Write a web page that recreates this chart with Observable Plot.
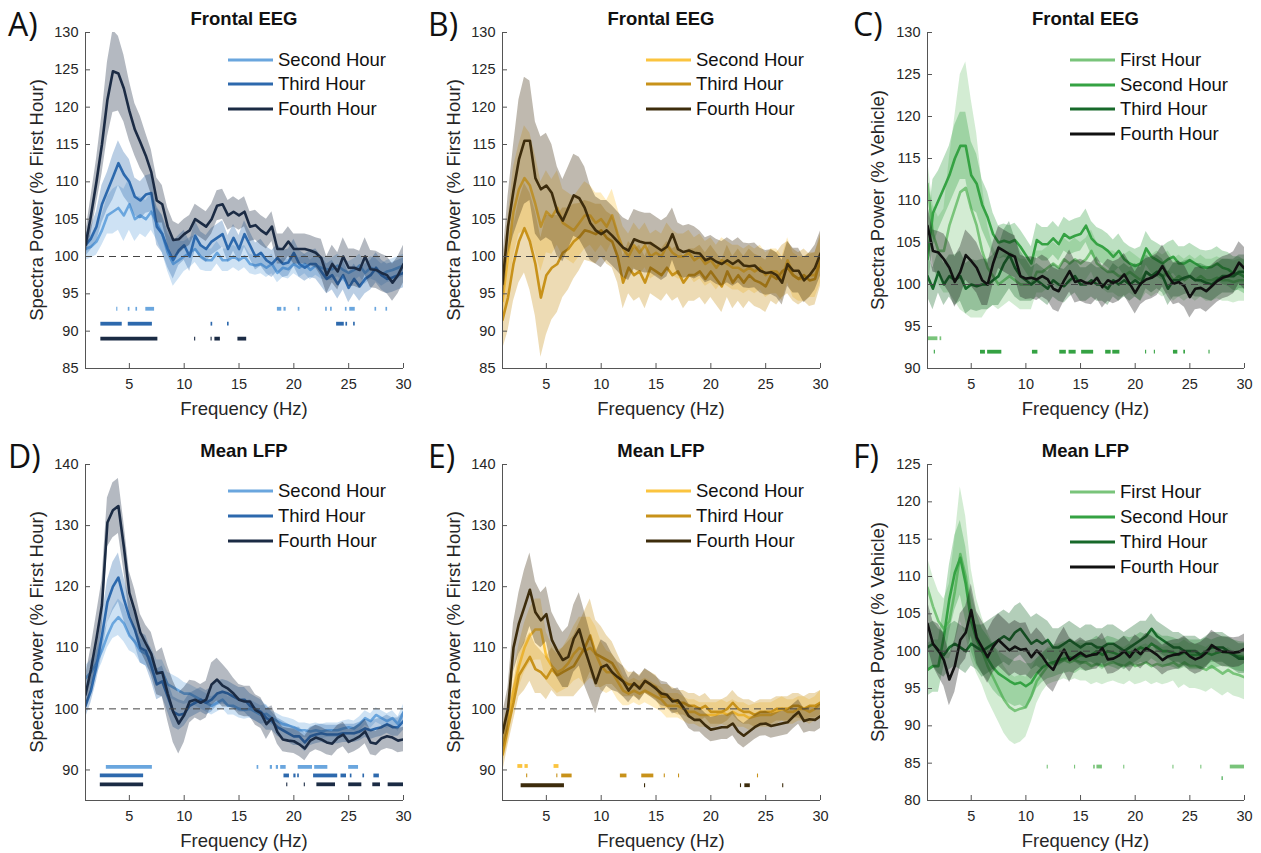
<!DOCTYPE html>
<html><head><meta charset="utf-8">
<script src="https://cdn.jsdelivr.net/npm/d3@7"></script>
<script src="https://cdn.jsdelivr.net/npm/@observablehq/plot@0.6"></script>
<style>
body{margin:0;background:#fff;font-family:"Liberation Sans",Arial,sans-serif;}
#root{position:relative;width:1261px;height:853px;overflow:hidden;background:#fff}
.panel{position:absolute}
.t{position:absolute;white-space:nowrap;color:#111;line-height:1}
.letter{font-family:"Open Sans",sans-serif;font-size:32px;color:#111}
.title{font-weight:bold;font-size:18.5px;transform:translate(-50%,-50%)}
.xl{font-size:18.5px;color:#262626;transform:translate(-50%,-50%)}
.yl{font-size:18.5px;color:#262626;transform:translate(-50%,-50%) rotate(-90deg)}
.lg{font-size:18.5px;color:#111;transform:translateY(-50%)}
.sw{position:absolute;height:3px;transform:translateY(-50%)}
</style></head><body><div id="root"></div><script>
// ---------- data ----------
const freq = [1,1.5,2,2.5,3,3.5,4,4.5,5,5.5,6,6.5,7,7.5,8,8.5,9,9.5,10,10.5,11,11.5,12,12.5,13,13.5,14,14.5,15,15.5,16,16.5,17,17.5,18,18.5,19,19.5,20,20.5,21,21.5,22,22.5,23,23.5,24,24.5,25,25.5,26,26.5,27,27.5,28,28.5,29,29.5,30];
const xTicks = [5,10,15,20,25,30];
const yTicksA = [85,90,95,100,105,110,115,120,125,130];
const yTicksC = [90,95,100,105,110,115,120,125,130];
const yTicksD = [90,100,110,120,130,140];
const yTicksF = [80,85,90,95,100,105,110,115,120,125];
const hoursBG = ["Second Hour","Third Hour","Fourth Hour"];
const hoursC = ["First Hour","Second Hour","Third Hour","Fourth Hour"];
const blues = ["#6aa6de","#2d69ad","#1b2b44"];
const golds = ["#fbc43f","#c8921a","#3d2c0c"];
const greens = ["#79c47a","#35a243","#17692a","#111111"];

// Panel A (Frontal EEG, % First Hour)
const A_second = [101,101.3,102,103.5,105.5,106,106.5,105.5,107,105, 105.5,105,106,104.5,103,100.5,99,99.5,100,100.5, 101,100,99.5,99.5,100.5,99.5,99.5,100,99.5,100, 99,98.8,99,98.5,99,97.8,98.5,98.3,99,98.5, 99,98.2,98.8,98.5,98.3,98.3,98.8,98.2,97.8,98.2, 98.8,97.8,98.5,98.2,97.5,98,98.2,98.5,98.8];
const A_third = [101.5,102.4,104,107,108.8,110.6,112.5,111,110,108, 107.5,108.3,108.5,104,103,101,99.5,100.8,101.5,100, 102.8,101.5,101,102,102.5,103,101,102.5,101,103, 101.5,100,100.5,99.5,99,99.8,99,99.2,100.5,99, 98.5,99,99,98,97,97.5,96.3,97.5,95.8,97, 96,97,97.5,98.5,97.5,97,97.2,97.5,97.8];
const A_fourth = [101.5,105.5,110,115,121,124.8,124.5,122.5,119.5,117, 115.3,113.5,111.3,107.5,107,104,102.2,102.3,103,103.5, 105,104.5,104,105,106.8,107,105.5,106,105.5,106, 104,104.2,103.5,103,104,101,101,102,101,101, 101,100.8,100.5,99.8,97.5,99,98,100,98.5,98.5, 98.2,100,98.3,98.2,97.8,97.5,96.5,97.5,99];
const A_second_err = [1.5,1.5,1.8,2,2.5,3,3,3.5,3.5,3, 2.5,2.5,2.5,2.3,2.5,2.5,3,2.5,2,2, 1.8,1.8,1.5,1.5,1.5,1.5,1.5,1.5,1.5,1.5, 1.3,1.3,1.3,1.3,1.3,1.3,1.3,1.3,1.3,1.3, 1.3,1.3,1.3,1.5,1.5,1.5,1.5,1.5,1.5,1.5, 1.5,1.5,1.5,1.5,1.5,1.5,1.5,1.5,1.5];
const A_third_err = [1.5,1.5,2,2.5,2.5,3,3,3,3,2.5, 2.5,2.5,2.5,2.5,2.5,2.5,2.5,2,2,2, 2,1.8,1.8,1.8,1.8,1.8,1.8,1.8,1.8,1.8, 1.8,1.8,1.8,1.8,1.8,1.8,1.8,1.8,1.8,1.8, 1.8,1.8,2,2,2,2,2,2,2,2, 2,2,2,2,2,2,2,2,2];
const A_fourth_err = [1.5,2.5,3,4,5,5.5,5,4.5,4,3.5, 3.5,3,3,3,2.5,2.5,2.5,2,2,2, 2,2,2,2,2,2,2,2,2,2, 2,2,2,2,2,2,2,2,2,2, 2,2,2,2.5,2.5,2.5,2.5,2.5,2.5,2.5, 2.5,2.5,2.5,2.5,2.5,2.5,2.5,2.5,2.5];
const A_sig1 = [[3.85,3.95],[4.9,5.05],[5.6,5.75],[6.5,7.3],[18.5,18.9],[19.1,19.3],[20.4,20.55],[22.9,23.05],[23.35,23.5],[24.7,24.85],[25.1,25.6],[27.4,27.55],[28.4,28.55]];
const A_sig2 = [[2.4,4.35],[4.9,7.1],[12.45,12.6],[13.95,14.1],[23.9,24.6],[24.75,24.9],[25.45,25.6]];
const A_sig3 = [[2.4,7.6],[10.95,11.05],[12.45,12.55],[12.8,13.3],[14.9,15.7]];

// Panel B (Frontal EEG, % First Hour)
const B_second = [94,100,106,109,110.5,109.5,107,104,106,105.3, 106.5,104.5,104,103.5,104.5,105.5,105.5,104.5,105,104, 105.5,103,101,100,101.5,100.5,101.5,100,100.5,100, 101.5,100.5,100,100,100.5,99.5,100,99,99.5,98.5, 99.5,99,98.5,98.5,98,98.5,98,98.5,97.5,98, 98,97,99.5,97.5,97,97,97.5,97.5,99.5];
const B_third = [91.5,94.5,99,102,103.8,102,99,94.5,97.5,98.5, 99,100.5,101,102,102.6,103.5,103.3,103,103.5,102.5, 102,100,96.5,98.5,97.5,98,96.5,98.5,98,97.5, 98.5,97.5,98,96.5,97.5,97.5,98,97,98,97, 96,98,96.5,97.5,96.5,97.5,96.8,96.5,96,97.5, 97,98,98.5,97.5,97,97.5,96.8,97,99.5];
const B_fourth = [96.3,104,108.8,113,115.5,115.5,110.5,109,109.5,108.5, 106,104.8,106.5,108.2,107.8,106.5,104.5,103.5,103,103.5, 102.8,102,101.2,100.8,102.3,102,101.8,101.8,101.3,100.8, 101.3,103,101,100.6,100.8,100.5,100.4,99.5,99.8,99.3, 99,99.5,99,99.5,98.8,98.7,98.8,98.1,97.8,97.9, 97.5,96.5,99,98.1,98.1,96.8,97.5,98.5,100.4];
const B_second_err = [4,5,6,6,7,7,6.5,6,5.5,5, 5,4.5,4.5,4.5,4.5,4.5,4,4,3.5,3.5, 3.5,3.5,3,3,3,3,3,3,3,3, 3,3,3,3,3,3,3,3,3,3, 3,3,3,3,3,3,3,3,3,3, 3,3,3,3,3,3,3,3,3];
const B_third_err = [4,4.5,5,5.5,6,6.5,7,8,8,7, 6.5,6,5.5,5,4.5,4,4,4,3.5,3.5, 3.5,3.5,3.5,3.5,3.5,3.5,3.5,3.5,3.5,3.5, 3.5,3.5,3.5,3.5,3.5,3.5,3.5,3.5,3.5,3.5, 3.5,3.5,3.5,3.5,3.5,3.5,3.5,3.5,3.5,3.5, 3.5,3.5,3.5,3.5,3.5,3.5,3.5,3.5,3.5];
const B_fourth_err = [3,4,6,8,8.5,8,7.5,7,7,6.5, 6,5.5,5.5,5.5,5.5,5.5,5,4.5,4.5,4, 4,4,4,4,4,4,4,4,4,4, 4,3.5,3.5,3.5,3.5,3.5,3,3,3,3, 3,3,3,3,3,3,3,3,3,3, 3,3,3,3,3,3,3,3,3];

// Panel C (Frontal EEG, % Vehicle)
const C_first = [112,106,104,104,107,109,111,111.5,109,107, 104,102,101,100,100.5,101,100.5,100,100,100, 101.5,101.5,102,102.5,102,103,102.5,103,102.5,103, 104,102.5,102,101.5,101.5,101,101,101.5,101,100.5, 101.5,101,101.5,101,101.5,100.5,101,100.5,101,100.5, 101,100.5,100.5,100.8,100.5,100.5,100.3,100.5,100.5];
const C_second = [103,108.5,110,111.5,113,115,116.5,116.5,113,112, 109.5,108,106,105,105.2,105,105.3,104.5,103.5,102.5, 105.3,104.8,104.8,105.5,104.8,106,105.5,105.8,106,107, 105.5,104.8,104.5,104,103.3,104,103,102.5,102.2,102.5, 104.3,103.3,102.9,102.5,103,103.3,102.5,102.5,102.9,102.5, 102.1,102,102.1,102.5,102,101.8,101.3,101.3,100.9];
const C_third = [101,99.5,101.5,100,101,100.5,101,99.5,100,99.8, 100,100,100.5,101,102.5,103.5,102,101,100.5,100, 100.5,100,99.5,100.5,100,99.8,100.5,101,100,100, 100.5,100,100,99.5,100.5,100,100.5,100,100.5,100, 101.5,101,101.5,101,99.5,100.5,100.5,100.8,101,100.5, 100.5,100.2,100,100.5,101,101,101,101.5,101.5];
const C_fourth = [107,104,103.8,103,102,100.3,101.5,103.5,102.8,102, 100.5,100,102.5,104.4,104,103.6,103.3,101,100.7,100.8, 100.6,101,100.6,99.5,99.2,100.5,101.6,100.3,100.5,100.2, 100.1,100.8,99.7,100.5,100.2,100.5,101.2,100.1,99,100.1, 100.6,100.8,101.2,102.2,101,100.1,100.3,99.8,98.5,99.5, 99.6,99.2,99.8,100.4,100.8,101,101.4,102.6,101.9];
const C_first_err = [3,3.5,4,5,8,11,14,15,13,11, 8,5,3.5,3,3,3,3,3,3,3, 2.5,2.5,2.5,2.5,2.5,2.5,2.5,2.5,2.5,2.5, 2.5,2.5,2.5,2.5,2.5,2.5,2.5,2.5,2.5,2.5, 2.5,2.5,2.5,2.5,2.5,2.5,2.5,2.5,2.5,2.5, 2.5,2.5,2.5,2.5,2.5,2.5,2.5,2.5,2.5];
const C_second_err = [4,4,3.5,3.5,3.5,4,4,4,4,3.5, 3,3,2.5,2,2,2,2,2,2,2, 2,2,2,2,2,2,2,2,2,2, 2,2,2,2,2,2,2,2,2,2, 2,2,2,2,2,2,2,2,2,2, 2,2,2,2,2,2,2,2,2];
const C_third_err = [2.5,2.5,2.5,2.5,2.5,3,3,3,3,3, 3,3,3,3.5,4,4,3.5,3,2.5,2, 2,2,2,2,2,2,2,2,2,2, 2,2,2,2,2,2,2,2,2,2, 2,2,2,2,2,2,2,2,2,2, 2,2,2,2,2,2,2,2,2];
const C_fourth_err = [2.5,2.5,2.5,3,3,3,3,3,3,3, 3,2.5,2.5,2.5,2.5,2.5,2.5,2.5,2.5,2.5, 2.5,2.5,2.5,2.5,2.5,2.5,2.5,2.5,2.5,2.5, 2.5,2.5,2.5,2.5,2.5,2.5,2.5,2.5,2.5,2.5, 2.5,2.5,2.5,2.5,2.5,2.5,2.5,2.5,2.5,2.5, 2.5,2.5,2.5,2.5,2.5,2.5,2.5,2.5,2.5];
const C_sig1 = [[1.0,1.95],[2.15,2.3]];
const C_sig2 = [[1.62,1.72],[5.85,6.3],[6.5,7.8],[10.6,11.1],[13.1,13.7],[13.95,14.6],[15.1,16.2],[17.3,17.8],[17.95,18.6],[20.95,21.05],[21.75,21.85],[23.5,23.9],[24.45,24.6],[26.75,26.85]];

// Panel D (Mean LFP, % First Hour)
const D_second = [105,106,107.5,109.5,112,114,115,114,112,111, 109.5,109,108,106,106,104,103.5,103,102.5,102.5, 102,101.5,101,100.5,101,101.5,100.5,100.5,100,99.8, 100,99.5,99,99.2,98.5,98,97.5,97.3,97,96.5, 96.5,96.3,96.5,96.3,96.5,96.5,96.5,96.8,97,96.8, 97.5,98.5,98,99,98.5,98,98.5,97.5,99.5];
const D_third = [100.5,103,107,112,117.5,120,121.5,118,115,113, 110,109.5,107,104,104.5,102,99.5,99,99.2,100.5, 101,101.5,101,101.5,102.5,102.8,102.5,102,101.5,101.5, 100.5,100,99.5,98.5,98,97,96.5,96,95.5,95.5, 94.5,95.5,95.8,96,95.8,95.8,95.8,96,96,96, 96.3,96.8,96.5,96.8,97,97.5,97,97,98];
const D_fourth = [102.3,106.5,111.5,117,130.5,132.5,133.2,126.5,119,116, 112.5,110.7,109,105.8,106,102.5,99.5,97.6,99,101.2, 101.5,101,101.5,104,104.8,103.8,103.3,102.5,101.5,101.2, 101.2,99.8,99.3,97.5,98.5,96.2,95,94.8,94.7,94.2, 93.5,94.8,95.3,95,94.5,94.3,95.3,95.8,94.6,95, 95.5,96.3,94.5,94.3,95.2,95.5,95.3,94.8,95];
const D_second_err = [2,2,2,2,2,2.5,3,3,2.5,2, 2,2,2,2,2,2,2,2,1.8,1.5, 1.5,1.5,1.5,1.5,1.5,1.5,1.5,1.5,1.5,1.5, 1.5,1.5,1.5,1.5,1.2,1.2,1.2,1.2,1.2,1.2, 1.2,1.2,1.2,1.2,1.2,1.2,1.2,1.2,1.2,1.2, 1.2,1.2,1.2,1.2,1.2,1.2,1.2,1.2,1.2];
const D_third_err = [2,2,2.5,3,3.5,4,4,3.5,3,2.5, 2.5,2.5,2.5,2.5,2.5,2.5,2.5,2.5,2,2, 2,2,2,2,2,2,2,2,2,2, 2,2,2,2,1.5,1.5,1.5,1.5,1.5,1.5, 1.5,1.5,1.5,1.5,1.5,1.5,1.5,1.5,1.5,1.5, 1.5,1.5,1.5,1.5,1.5,1.5,1.5,1.5,1.5];
const D_fourth_err = [3,3.5,4,4,4,4.5,4.5,4,3.5,3.5, 3,3,3.5,3.5,4,4.5,5,5,4.5,3.5, 3,3,3,3.5,3.5,3.5,3,2.5,2.5,2.5, 2.5,2.5,2.5,2.5,2,2,2,2,2,2, 2,2,2,2,2,2,2,2,2,2, 2,2,2,2,2,2,2,2,2];
const D_sig1 = [[2.9,7.1],[16.65,16.8],[17.85,18.05],[18.4,18.6],[18.8,19.3],[20.4,21.7],[21.9,23.1],[25.0,25.9]];
const D_sig2 = [[2.35,6.3],[19.1,19.6],[20.0,20.2],[20.35,20.5],[21.8,24.0],[24.3,24.8],[25.15,25.3],[26.3,26.45],[27.3,27.8]];
const D_sig3 = [[2.35,6.3],[19.35,19.45],[20.95,21.05],[22.1,23.8],[25.0,26.2],[27.2,27.9],[28.6,30]];

// Panel E (Mean LFP, % First Hour)
const E_second = [94,97.5,103,107,110,112,113,113,108.5,107, 106,106.5,107.5,109,110,109.5,110,109,107,106, 106,104.5,103,102.5,103,102.5,103,102.5,102,101.5, 100.5,100.5,100.5,100,99.5,99.5,99,99,99,99, 99.5,99,99.5,99,99,98.5,98.8,99,99,99, 99.5,100,99.5,99.5,100,100,99.5,100,101];
const E_third = [92.5,97,101,105.5,107,108.5,106.5,106,105,106.5, 105.5,106,106.5,107,108.5,110,112,109,108.5,108, 107.5,106,104.5,104,104,103.5,104.5,104,103.5,102, 102,101.5,101,101,100.5,100.5,100,100.5,99.5,99.5, 99.5,100,101,100,99.5,99.5,99,99.5,99.5,99.5, 100,100,100,100.5,100.5,100,100.5,100.5,101];
const E_fourth = [96,100,110,114,116.7,119.5,115.8,114.5,115.5,111.3, 109.5,108,108.5,111.5,113,109.8,107,104.2,106.8,107.2, 106,105.2,104.5,103,104.2,103.3,104.6,104,103.3,102.5, 102.3,101.2,101.4,100.2,98.8,98.2,98.2,97.3,96.6,96.8, 97,97,97.6,96.3,95.6,96.3,97,97.5,97.6,97.2, 97.4,97.6,97.8,98.7,99.5,98,98.3,98.2,98.8];
const E_second_err = [3,3,3,3.5,4,4.5,5,5,4,3.5, 3.5,3.5,4,4.5,5,5.5,5,4.5,4,3.5, 3,3,2.5,2,2,2,2,2,2,2, 2,2,2,2,2,2,2,2,2,2, 2,2,2,2,2,2,2,2,2,2, 2,2,2,2,2,2,2,2,2];
const E_third_err = [3,3,3,3.5,4,4,4,3.5,3.5,3.5, 3.5,4,4.5,5,5.5,6,6,5.5,5,4, 3.5,3,2.5,2,2,2,2,2,2,2, 2,2,2,2,2,2,2,2,2,2, 2,2,2,2,2,2,2,2,2,2, 2,2,2,2,2,2,2,2,2];
const E_fourth_err = [3,3.5,4,5,6,6,5,4.5,4.5,4.5, 4.5,4.5,5,5.5,6,6,5.5,5,4.5,3.5, 3,2.5,2.5,2,2,2,2,2,2,2, 2,2,2,2,2,2,2,2,2,2, 2,2,2,2,2,2,2,2,2,2, 2,2,2,2,2,2,2,2,2];
const E_sig1 = [[2.4,2.85],[3.05,3.35],[5.7,6.15]];
const E_sig2 = [[3.2,3.3],[5.95,6.05],[6.4,7.35],[11.75,12.35],[13.7,14.8],[15.75,15.85],[17.05,17.15],[24.25,24.35]];
const E_sig3 = [[2.7,6.65],[13.95,14.05],[22.7,22.8],[23.1,23.6],[26.55,26.65]];

// Panel F (Mean LFP, % Vehicle)
const F_first = [108.5,106,104,103,104,108,113,110,105,102, 100,98,96.5,95,93.5,92.5,92,92.3,92.5,94, 96,97,98,98.3,98.5,98.8,98.5,98.8,98.5,98.5, 98,98.3,98,98.3,98.5,98.2,98,98.5,98,98.2, 98.5,98,98.3,98,98.2,98.5,98,98.5,98,98, 97.8,97.5,98,97.5,97,97.5,97,96.8,96.5];
const F_second = [97.5,98,98,102,107,110.5,112.5,109,104,101.5, 100,99,97.8,97,96.5,96,95.6,95.8,95.3,95.8, 97,97.8,98.3,98.5,98.8,99,99.2,99,99.5,99.3, 99.5,100,99.5,100,99.8,99.5,100,99.8,100,100.5, 100.2,101,100.5,100,100,99.8,99.5,99.8,99.5,99.5, 99.5,99.8,99.5,99.8,100,99.8,99.5,99.3,99.2];
const F_third = [100.5,101,100,99.5,100.5,101,100.5,100,101,100.5, 100,100.5,101,101.5,102,101.5,102.5,103,102,101, 101.5,101,101.5,100.5,100.5,101,101.5,101,100.5,101, 101,100.5,100.5,101,101,100.5,100,100.5,101,101.5, 102,103,102,101.5,101,100.5,100.5,100,100,100, 99.5,100,100.5,100.5,100.5,100,99.5,99,99];
const F_fourth = [103.7,101,100.1,98.8,96.2,98,101.5,102.5,105.5,101.8, 100.5,99.2,100.6,101.5,100.8,100.1,100.6,100.2,100.3,99.2, 100.1,99.3,98.2,97.5,99,100.2,98.8,99.3,99.8,99.3, 99.5,99.6,100.4,98.9,99,99.4,100,99.2,100.2,99.6, 100.4,100,99.5,98.8,99.3,99.5,99.6,100,99.3,98.9, 99.2,99.8,100.8,100.3,99.9,99.9,99.8,99.9,100.3];
const F_first_err = [4,4,4,4,5,7,9,8,6,5, 4.5,4.5,4.5,4.5,4.5,4.5,4.5,4.5,4,3.5, 3,2.5,2.5,2.5,2.5,2.5,2.5,2.5,2.5,2.5, 2.5,2.5,2.5,2.5,2.5,2.5,2.5,2.5,2.5,2.5, 2.5,2.5,2.5,2.5,2.5,2.5,3,3,3,3, 3,3,3,3,3,3,3,3,3];
const F_second_err = [3.5,3.5,3.5,4,4.5,5,5,5,4,3.5, 3,3,3,3,3,3,3,3,3,2.5, 2,2,2,2,2,2,2,2,2,2, 2,2,2,2,2,2,2,2,2,2, 2,2,2,2,2,2,2,2,2,2, 2,2,2,2,2,2,2,2,2];
const F_third_err = [3,3,3,3,3,3,3,3,3,3, 3.5,3.5,3.5,3.5,3.5,3.5,3.5,3.5,3.5,3.5, 3.5,3.5,2.5,2.5,2.5,2.5,2.5,2.5,2.5,2.5, 2.5,2.5,2.5,2.5,2.5,2.5,2.5,2.5,2.5,2.5, 2,2,2,2,2,2,2,2,2,2, 2,2,2,2,2,2,2,2,2];
const F_fourth_err = [3,3,3.5,3.5,3.5,3.5,3.5,3.5,3.5,3.5, 3.5,3.5,3.5,3.5,3.5,3.5,3.5,3.5,3.5,3, 3,3,3,3,3,3,3,2,2,2, 2,2,2,2,2,2,2,2,2,2, 2,2,2,2,2,2,2,2,2,2, 2,2,2,2,2,2,2,2,2];
const F_sig1 = [[11.95,12.05],[14.45,14.55],[16.2,16.35],[16.5,17.0],[18.95,19.05],[23.45,23.55],[26.0,26.1],[28.7,30]];
const F_sig2 = [[27.95,28.05]];

// ---------- layout ----------
const panels = [
  {id:"A", left:0, top:0, w:420, h:426, ml:85, mr:17, mt:32, mb:58, ydom:[85,130], yt:yTicksA, title:"Frontal EEG", ylab:"Spectra Power (% First Hour)", names:hoursBG, colors:blues,
   means:[A_second,A_third,A_fourth], errs:[A_second_err,A_third_err,A_fourth_err], sig:[[A_sig1,93],[A_sig2,91],[A_sig3,89]], letterX:8, letterY:8, ylX:37, legX:228, legY:[59.5,84,109]},
  {id:"B", left:420, top:0, w:420, h:426, ml:82, mr:20, mt:32, mb:58, ydom:[85,130], yt:yTicksA, title:"Frontal EEG", ylab:"Spectra Power (% First Hour)", names:hoursBG, colors:golds,
   means:[B_second,B_third,B_fourth], errs:[B_second_err,B_third_err,B_fourth_err], sig:[], letterX:428, letterY:8, ylX:34, legX:646, legY:[59.5,84,109]},
  {id:"C", left:840, top:0, w:421, h:426, ml:87, mr:17, mt:32, mb:58, ydom:[90,130], yt:yTicksC, title:"Frontal EEG", ylab:"Spectra Power (% Vehicle)", names:hoursC, colors:greens,
   means:[C_first,C_second,C_third,C_fourth], errs:[C_first_err,C_second_err,C_third_err,C_fourth_err], sig:[[C_sig1,93.6],[C_sig2,92]], letterX:853, letterY:8, ylX:38, legX:1070, legY:[60,84.5,109,134]},
  {id:"D", left:0, top:430, w:420, h:423, ml:85, mr:17, mt:34, mb:53, ydom:[85,140], yt:yTicksD, title:"Mean LFP", ylab:"Spectra Power (% First Hour)", names:hoursBG, colors:blues,
   means:[D_second,D_third,D_fourth], errs:[D_second_err,D_third_err,D_fourth_err], sig:[[D_sig1,90.5],[D_sig2,89.1],[D_sig3,87.65]], letterX:8, letterY:440, ylX:37, legX:228, legY:[491,516,541]},
  {id:"E", left:420, top:430, w:420, h:423, ml:82, mr:20, mt:34, mb:53, ydom:[85,140], yt:yTicksD, title:"Mean LFP", ylab:"Spectra Power (% First Hour)", names:hoursBG, colors:golds,
   means:[E_second,E_third,E_fourth], errs:[E_second_err,E_third_err,E_fourth_err], sig:[[E_sig1,90.65],[E_sig2,89.1],[E_sig3,87.5]], letterX:428, letterY:440, ylX:34, legX:646, legY:[491,516,541]},
  {id:"F", left:840, top:430, w:421, h:423, ml:87, mr:17, mt:34, mb:53, ydom:[80,125], yt:yTicksF, title:"Mean LFP", ylab:"Spectra Power (% Vehicle)", names:hoursC, colors:greens,
   means:[F_first,F_second,F_third,F_fourth], errs:[F_first_err,F_second_err,F_third_err,F_fourth_err], sig:[[F_sig1,84.55],[F_sig2,83]], letterX:853, letterY:440, ylX:38, legX:1070, legY:[492,517,542,567]}
];

const root = document.getElementById("root");
function addText(cls, text, x, y){
  const d = document.createElement("div");
  d.className = "t " + cls; d.textContent = text;
  d.style.left = x + "px"; d.style.top = y + "px";
  root.appendChild(d); return d;
}

for (const p of panels) {
  const pw = p.w - p.ml - p.mr, ph = p.h - p.mt - p.mb;
  const marks = [];
  p.names.forEach((name, k) => {
    const rows = freq.map((f, i) => ({f, m: p.means[k][i], lo: p.means[k][i] - p.errs[k][i], hi: p.means[k][i] + p.errs[k][i]}));
    marks.push(Plot.areaY(rows, {x:"f", y1:"lo", y2:"hi", fill:p.colors[k], fillOpacity:0.33, clip:true}));
    marks.push(Plot.lineY(rows, {x:"f", y:"m", stroke:p.colors[k], strokeWidth:2.6, clip:true}));
  });
  marks.push(Plot.ruleY([100], {stroke:"#444", strokeWidth:1, strokeDasharray:"7,5"}));
  const segs = [];
  p.sig.forEach(([list, yv], k) => {
    list.forEach(([a, b]) => segs.push({a, b, y: yv, c: p.colors[k]}));
  });
  if (segs.length) marks.push(Plot.ruleY(segs, {y:"y", x1:"a", x2:"b", stroke:"c", strokeWidth:3.8}));
  marks.push(
    Plot.ruleX([1], {stroke:"#555", strokeWidth:1}),
    Plot.ruleY([p.ydom[0]], {stroke:"#555", strokeWidth:1}),
    Plot.tickX(xTicks, {x:d=>d, stroke:"#555", insetTop: ph - 5}),
    Plot.tickY(p.yt, {y:d=>d, stroke:"#555", insetRight: pw - 5}),
    Plot.axisX(xTicks, {tickSize:0, tickPadding:10, label:null, fontSize:14.5}),
    Plot.axisY(p.yt, {tickSize:0, tickPadding:7, label:null, fontSize:14.5})
  );
  const svg = Plot.plot({
    width:p.w, height:p.h, marginLeft:p.ml, marginRight:p.mr, marginTop:p.mt, marginBottom:p.mb,
    x:{domain:[1,30]}, y:{domain:p.ydom}, color:{type:"identity"},
    style:{fontFamily:"Liberation Sans, Arial, sans-serif", fontSize:"14.5px", color:"#262626", background:"transparent", overflow:"visible"},
    marks
  });
  const holder = document.createElement("div");
  holder.className = "panel"; holder.style.left = p.left + "px"; holder.style.top = p.top + "px";
  holder.appendChild(svg); root.appendChild(holder);

  const cx = p.left + p.ml + pw / 2;
  const cy = p.top + p.mt + ph / 2;
  addText("letter", p.id + ")", p.letterX, p.letterY);
  addText("title", p.title, cx, p.top + p.mt - 13);
  addText("xl", "Frequency (Hz)", cx, p.top + p.mt + ph + 41);
  addText("yl", p.ylab, p.left + p.ylX, cy);
  p.names.forEach((name, k) => {
    const sw = document.createElement("div");
    sw.className = "sw"; sw.style.left = p.legX + "px"; sw.style.top = p.legY[k] + "px";
    sw.style.width = "45px"; sw.style.background = p.colors[k];
    root.appendChild(sw);
    addText("lg", name, p.legX + 50, p.legY[k]);
  });
}
</script></body></html>
